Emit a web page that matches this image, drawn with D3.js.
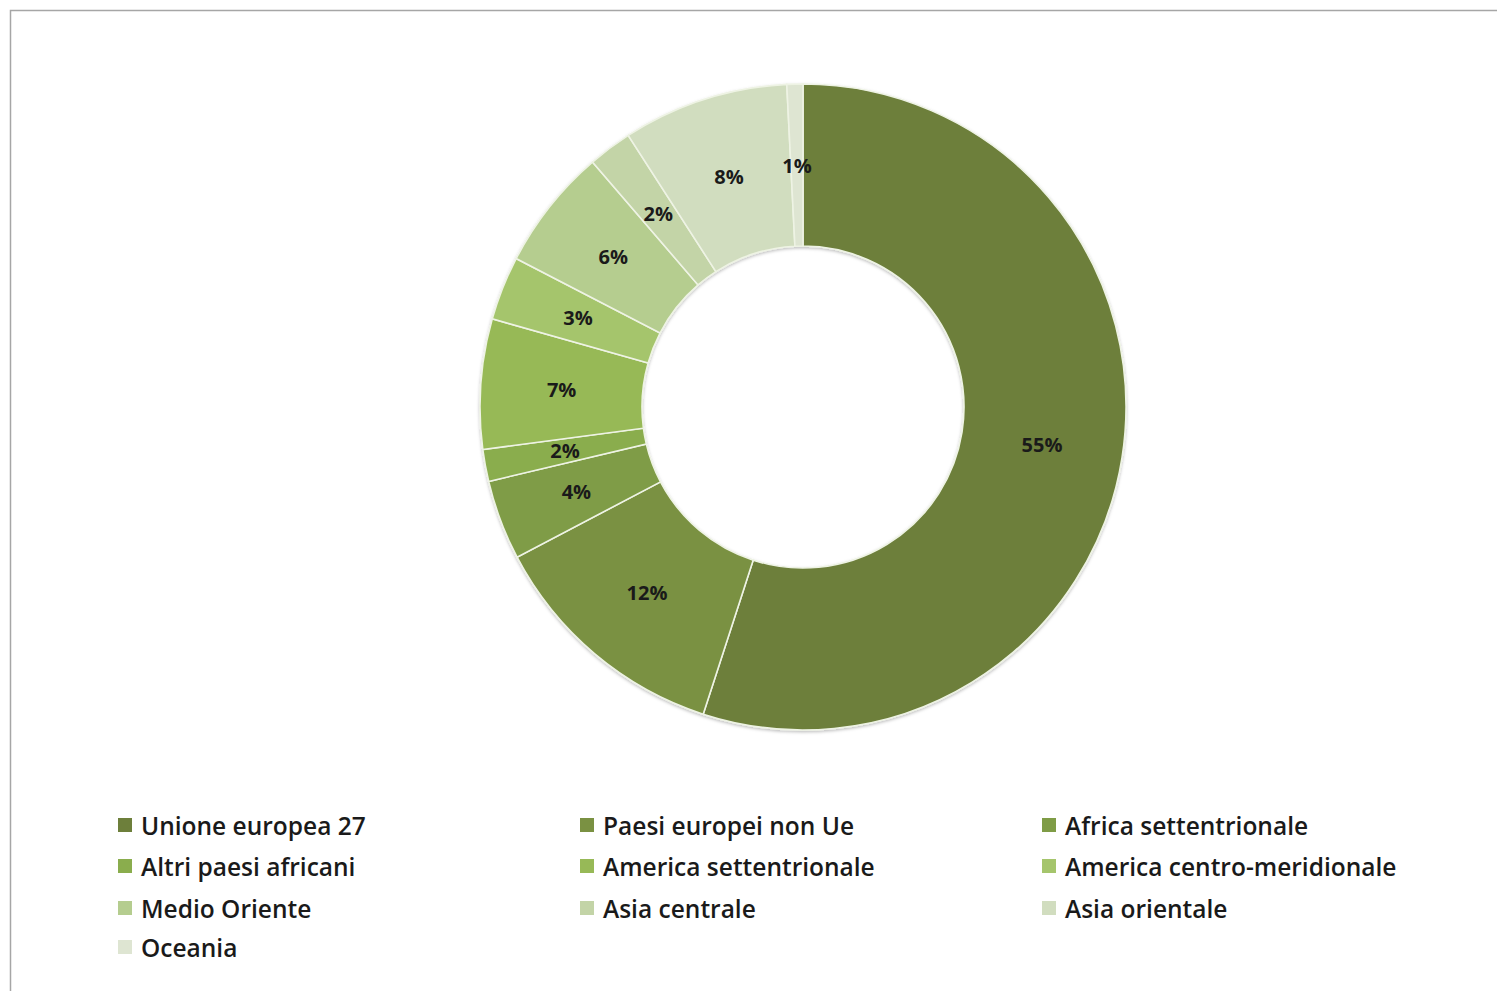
<!DOCTYPE html>
<html>
<head>
<meta charset="utf-8">
<script src="https://cdn.jsdelivr.net/npm/d3@7/dist/d3.min.js"></script>
<style>
  html, body { margin: 0; padding: 0; background: #ffffff; }
  svg { display: block; }
</style>
</head>
<body>
<svg id="chart" width="1497" height="991"></svg>
<script>
const categories = [
  "Unione europea 27", "Paesi europei non Ue", "Africa settentrionale",
  "Altri paesi africani", "America settentrionale", "America centro-meridionale",
  "Medio Oriente", "Asia centrale", "Asia orientale", "Oceania"
];
const values = [55.0, 12.3, 4.0, 1.6, 6.5, 3.2, 6.1, 2.2, 8.3, 0.8];
const colors = [
  "#6D7F3B", "#7A9142", "#7F9C46", "#8AAD4D", "#97B957",
  "#A5C56C", "#B5CD8F", "#C3D4A7", "#D1DDBF", "#DEE5D2"
];

const svg = d3.select("#chart");
const W = 1497, H = 991;

svg.append("rect")
  .attr("x", 10.5).attr("y", 10.5)
  .attr("width", W + 20).attr("height", H + 20)
  .attr("fill", "#ffffff")
  .attr("stroke", "#a6a6a6").attr("stroke-width", 1.5);

const cx = 803, cy = 407, rOuter = 323, rInner = 161;

const data = categories.map((c, i) => ({ cat: c, value: values[i], color: colors[i] }));
const pie = d3.pie().sort(null).value(d => d.value);
const arcs = pie(data);
const arc = d3.arc().innerRadius(rInner).outerRadius(rOuter);
const labelArc = d3.arc().innerRadius((rInner + rOuter) / 2).outerRadius((rInner + rOuter) / 2);

const g = svg.append("g").attr("transform", `translate(${cx},${cy})`);

const defs = svg.append("defs");
const f = defs.append("filter").attr("id", "sh").attr("x", "-10%").attr("y", "-10%").attr("width", "120%").attr("height", "120%");
f.append("feDropShadow").attr("dx", 0).attr("dy", 1.5).attr("stdDeviation", 1.5).attr("flood-color", "#000").attr("flood-opacity", 0.25);

g.append("g").attr("filter", "url(#sh)")
  .selectAll("path")
  .data(arcs)
  .join("path")
  .attr("d", arc)
  .attr("fill", d => d.data.color)
  .attr("stroke", "#eef3e4")
  .attr("stroke-width", 1.6);

g.selectAll("text.lbl")
  .data(arcs)
  .join("text")
  .attr("class", "lbl")
  .attr("transform", d => `translate(${labelArc.centroid(d)})`)
  .attr("text-anchor", "middle")
  .attr("dominant-baseline", "central")
  .attr("font-family", "'Open Sans', Lato, sans-serif")
  .attr("font-weight", 700)
  .attr("font-size", 20)
  .attr("fill", "#1a1a1a")
  .text(d => Math.round(d.data.value) + "%");

const colX = [118, 580, 1042];
const rowY = [825, 866, 908, 947];
const leg = svg.append("g");
data.forEach((d, i) => {
  const col = i % 3, row = Math.floor(i / 3);
  const x = colX[col], y = rowY[row];
  leg.append("rect")
    .attr("x", x).attr("y", y - 7)
    .attr("width", 14).attr("height", 14)
    .attr("fill", d.color);
  leg.append("text")
    .attr("x", x + 23).attr("y", y)
    .attr("dominant-baseline", "central")
    .attr("font-family", "'Open Sans', Lato, sans-serif")
    .attr("font-weight", 600)
    .attr("font-size", 24.5)
    .attr("fill", "#1a1a1a")
    .text(d.cat);
});
</script>
</body>
</html>
